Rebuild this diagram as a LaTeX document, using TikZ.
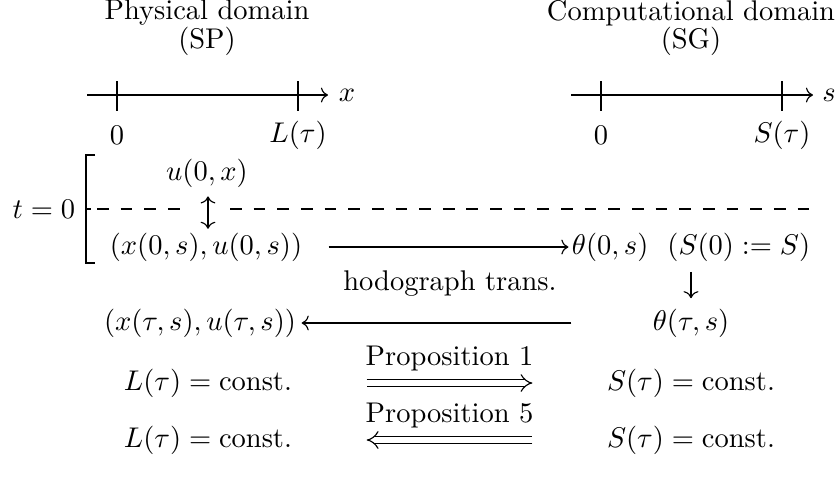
\documentclass[tikz,border=0pt]{standalone}
\usetikzlibrary{arrows.meta}
\begin{document}
\begin{tikzpicture}[x=0.351pt,y=-0.351pt,
  txt/.style={inner sep=0pt, anchor=center},
  conn/.style={->},
  dbl/.style={double, double distance=1.8pt, -{Implies}},
  dashline/.style={dash pattern=on 4.1pt off 4.2pt},
  brk/.style={line width=0.5pt}]
\useasboundingbox (0,0) rectangle (840,493);
% titles
\node[txt] (t1) at (207,13) {Physical domain};
\node[txt] (t1b) at (207,41) {(SP)};
\node[txt] (t2) at (691,13) {Computational domain};
\node[txt] (t2b) at (691,41) {(SG)};
% axis 1
\coordinate (a1s) at (87,95);
\coordinate (a1e) at (328,95);
\draw[conn] (a1s) -- (a1e);
\draw (117,81) -- (117,111);
\draw (298,81) -- (298,111);
\node[txt] (xl) at (347,95) {$x$};
\node[txt] (l10) at (117,135) {$0$};
\node[txt] (l1L) at (298,135) {$L(\tau)$};
% axis 2
\coordinate (a2s) at (571,95);
\coordinate (a2e) at (813,95);
\draw[conn] (a2s) -- (a2e);
\draw (601,81) -- (601,111);
\draw (782,81) -- (782,111);
\node[txt] (sl) at (829,95) {$s$};
\node[txt] (l20) at (601,135) {$0$};
\node[txt] (l2S) at (782,135) {$S(\tau)$};
% t=0 bracket
\node[txt] (t0) at (44,209) {$t=0$};
\draw[brk] (95,155) -- (86,155) -- (86,263) -- (95,263);
\draw (86,209) -- (91,209);
\draw[dashline] (97,209) -- (180,209);
\draw[dashline] (230,209) -- (813,209);
% nodes
\node[txt] (u0) at (207,173) {$u(0,x)$};
\node[txt] (A) at (206,247) {$(x(0,s),u(0,s))$};
\node[txt] (B) at (691,247) {$\theta(0,s)\ \ (S(0):=S)$};
\node[txt] (hod) at (450,284) {hodograph trans.};
\node[txt] (C) at (691,323) {$\theta(\tau,s)$};
\node[txt] (D) at (200,323) {$(x(\tau,s),u(\tau,s))$};
\draw[<->, shorten <=3pt, shorten >=1.2pt] (u0.south -| 208,0) -- (A.north -| 208,0);
\draw[conn, shorten <=9.1pt, shorten >=1pt] (A.east) -- (A.east -| B.west);
\draw[conn, shorten <=3.5pt, shorten >=3.5pt] (B.south) -- (C.north);
\draw[conn, shorten <=28.4pt, shorten >=1.8pt] (C.west) -- (C.west -| D.east);
% propositions
\node[txt] (E) at (208,383) {$L(\tau)=\mathrm{const.}$};
\node[txt] (F) at (691,383) {$S(\tau)=\mathrm{const.}$};
\node[txt] (G) at (208,440) {$L(\tau)=\mathrm{const.}$};
\node[txt] (H) at (691,440) {$S(\tau)=\mathrm{const.}$};
\draw[dbl, shorten <=26pt, shorten >=26pt] (E.east) -- (E.east -| F.west)
  node[midway, above=4pt, inner sep=0pt] (p1) {Proposition 1};
\draw[dbl, shorten <=26pt, shorten >=26pt] (H.west) -- (H.west -| G.east)
  node[midway, above=4pt, inner sep=0pt] (p5) {Proposition 5};
\end{tikzpicture}
\end{document}
